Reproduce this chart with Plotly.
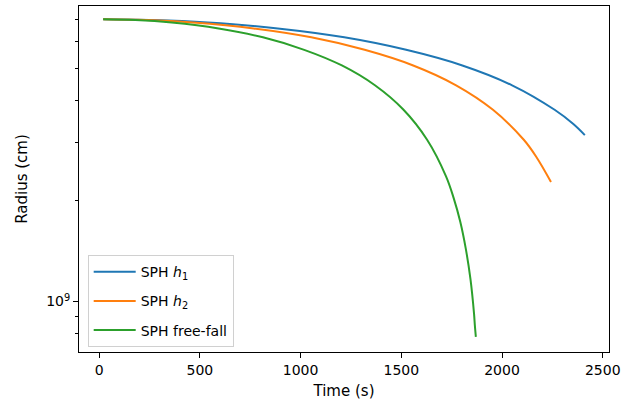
import numpy as np
import plotly.graph_objects as go

# Collapse histories: time (s) and radius (cm)
t_h1 = [20, 270, 539, 887, 1217, 1524, 1803, 2050, 2261, 2354, 2411]
r_h1 = [7.00e9, 6.96e9, 6.84e9, 6.57e9, 6.18e9, 5.67e9, 5.09e9, 4.44e9, 3.75e9, 3.40e9, 3.15e9]

t_h2 = [20, 233, 466, 767, 1053, 1318, 1559, 1772, 1955, 2108, 2172, 2243]
r_h2 = [7.00e9, 6.96e9, 6.84e9, 6.57e9, 6.18e9, 5.67e9, 5.09e9, 4.44e9, 3.75e9, 3.05e9, 2.70e9, 2.28e9]

t_ff = [20, 180, 360, 593, 813, 1018, 1205, 1369, 1511, 1628, 1722, 1760, 1793,
        1820, 1843, 1861, 1865, 1870]
r_ff = [7.00e9, 6.96e9, 6.84e9, 6.57e9, 6.18e9, 5.67e9, 5.09e9, 4.44e9, 3.75e9, 3.05e9,
        2.37e9, 2.04e9, 1.73e9, 1.44e9, 1.17e9, 9.2e8, 8.5e8, 7.84e8]

series = [
    ("SPH <i>h</i><sub>1</sub>", t_h1, r_h1, "#1f77b4"),
    ("SPH <i>h</i><sub>2</sub>", t_h2, r_h2, "#ff7f0e"),
    ("SPH free-fall", t_ff, r_ff, "#2ca02c"),
]

x_ticks = [0, 500, 1000, 1500, 2000, 2500]
y_major = [1e9]
y_major_text = ["10<sup>9</sup>"]
y_minor = [8e8, 9e8, 2e9, 3e9, 4e9, 5e9, 6e9, 7e9]

FONT = "DejaVu Sans"

fig = go.Figure()
for i, (name, t, r, color) in enumerate(series):
    fig.add_trace(go.Scatter(
        x=t, y=r, mode="lines", name=name, legendgroup=f"g{i}",
        line=dict(color=color, width=2, shape="spline", smoothing=1),
    ))

fig.update_layout(
    width=633, height=403,
    margin=dict(l=79, r=24, t=6, b=51),
    paper_bgcolor="white", plot_bgcolor="white",
    font=dict(family=FONT, size=14, color="black"),
    showlegend=True,
    legend=dict(
        x=0.0164, y=0.28, xanchor="left", yanchor="top",
        bgcolor="white", bordercolor="#d0d0d0", borderwidth=1,
        font=dict(family=FONT, size=14, color="black"),
        tracegroupgap=8, itemwidth=42,
    ),
    xaxis=dict(
        range=[-100, 2531], tickmode="array", tickvals=x_ticks,
        ticks="outside", ticklen=5, tickwidth=1, tickcolor="black",
        tickfont=dict(size=14),
        showline=True, linecolor="black", linewidth=1, mirror=True,
        showgrid=False, zeroline=False,
        title=dict(text="Time (s)", standoff=8, font=dict(size=15)),
    ),
    yaxis=dict(
        type="log", range=[np.log10(7.06e8), np.log10(7.67e9)],
        tickmode="array", tickvals=y_major, ticktext=y_major_text,
        ticks="outside", ticklen=5, tickwidth=1, tickcolor="black",
        tickfont=dict(size=14),
        minor=dict(tickmode="array", tickvals=y_minor, ticks="outside",
                   ticklen=3, tickwidth=1, tickcolor="black", showgrid=False),
        showline=True, linecolor="black", linewidth=1, mirror=True,
        showgrid=False, zeroline=False,
        title=dict(text="Radius (cm)", standoff=14, font=dict(size=15)),
    ),
)

fig.write_html("out.html")
